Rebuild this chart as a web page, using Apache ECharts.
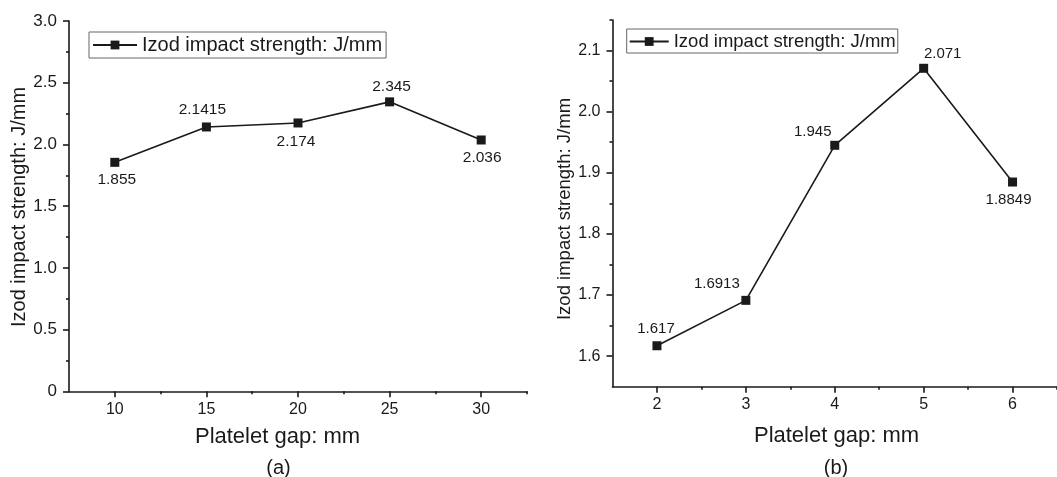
<!DOCTYPE html>
<html>
<head>
<meta charset="utf-8">
<script src="https://cdn.jsdelivr.net/npm/echarts@6/dist/echarts.min.js"></script>
<style>
html,body{margin:0;padding:0;background:#fff;}
#chart{width:1057px;height:477px;}
</style>
</head>
<body>
<div id="chart"></div>
<script>
// ---- data ----
const seriesName = 'Izod impact strength: J/mm';
const gapA = [10, 15, 20, 25, 30];
const strengthA = [1.855, 2.1415, 2.174, 2.345, 2.036];
const gapB = [2, 3, 4, 5, 6];
const strengthB = [1.617, 1.6913, 1.945, 2.071, 1.8849];

// ---- tick labels ----
const xMajorA = [10, 15, 20, 25, 30];
const xMinorA = [12.5, 17.5, 22.5, 27.5, 32.5];
const xMajorB = [2, 3, 4, 5, 6];
const xMinorB = [2.5, 3.5, 4.5, 5.5, 6.5];
const yMajorB = [1.6, 1.7, 1.8, 1.9, 2.0, 2.1];
const yMinorB = [1.65, 1.75, 1.85, 1.95, 2.05, 2.15];

const xTitle = 'Platelet gap: mm';
const yTitle = 'Izod impact strength: J/mm';
const panelA = '(a)';
const panelB = '(b)';

// label placement (style only)
const labelPlaceA = [
  {position: 'bottom', offset: [2, 0]},
  {position: 'top', offset: [-4, 0]},
  {position: 'bottom', offset: [-2, 1]},
  {position: 'top', offset: [2, 2]},
  {position: 'bottom', offset: [1, 0]}
];
const labelPlaceB = [
  {position: 'top', offset: [-1, 0]},
  {position: 'top', offset: [-29, 1]},
  {position: 'top', offset: [-22, 4]},
  {position: 'top', offset: [19, 3]},
  {position: 'bottom', offset: [-4, 1]}
];

const FONT = '"Liberation Sans", Arial, sans-serif';
const INK = '#1a1a1a';

const chart = echarts.init(document.getElementById('chart'), null, {renderer: 'canvas'});

function axisBase(extra) {
  return Object.assign({
    axisLine: {show: true, onZero: false, lineStyle: {color: INK, width: 1.6}},
    splitLine: {show: false},
    axisLabel: {color: INK, fontFamily: FONT}
  }, extra);
}

const option = {
  backgroundColor: '#fff',
  animation: false,
  textStyle: {fontFamily: FONT},
  grid: [
    {left: 69, top: 21, width: 458, height: 370.3, containLabel: false},
    {left: 612.5, top: 20, width: 450, height: 366.7, containLabel: false}
  ],
  legend: [
    {
      data: [seriesName], left: 89, top: 32,
      padding: [3, 4, 3, 3], borderColor: '#666', borderWidth: 1,
      itemWidth: 44, itemHeight: 11, selectedMode: false,
      textStyle: {fontSize: 20, color: INK, fontFamily: FONT}
    },
    {
      data: [seriesName], left: 626.7, top: 29,
      padding: [3, 2, 2, 2], borderColor: '#666', borderWidth: 1,
      itemWidth: 39, itemHeight: 11, selectedMode: false,
      textStyle: {fontSize: 18.5, color: INK, fontFamily: FONT}
    }
  ],
  xAxis: [
    axisBase({
      type: 'value', gridIndex: 0, position: 'bottom', min: 7.5, max: 32.5,
      axisTick: {show: true, length: 6, customValues: xMajorA, lineStyle: {color: INK, width: 1.6}},
      axisLabel: {color: INK, fontFamily: FONT, fontSize: 16, margin: 10, customValues: xMajorA}
    }),
    {
      type: 'value', gridIndex: 0, position: 'bottom', min: 7.5, max: 32.5,
      axisLine: {show: false, onZero: false}, splitLine: {show: false},
      axisLabel: {show: false},
      axisTick: {show: true, length: 3, customValues: xMinorA, lineStyle: {color: INK, width: 1.6}}
    },
    axisBase({
      type: 'value', gridIndex: 1, position: 'bottom', min: 1.5, max: 6.5,
      axisTick: {show: true, length: 6, customValues: xMajorB, lineStyle: {color: INK, width: 1.6}},
      axisLabel: {color: INK, fontFamily: FONT, fontSize: 16, margin: 10, customValues: xMajorB}
    }),
    {
      type: 'value', gridIndex: 1, position: 'bottom', min: 1.5, max: 6.5,
      axisLine: {show: false, onZero: false}, splitLine: {show: false},
      axisLabel: {show: false},
      axisTick: {show: true, length: 3, customValues: xMinorB, lineStyle: {color: INK, width: 1.6}}
    }
  ],
  yAxis: [
    axisBase({
      type: 'value', gridIndex: 0, position: 'left', min: 0, max: 3, interval: 0.5,
      axisTick: {show: true, length: 6, lineStyle: {color: INK, width: 1.6}},
      minorTick: {show: true, splitNumber: 2, length: 3, lineStyle: {color: INK, width: 1.6}},
      minorSplitLine: {show: false},
      axisLabel: {color: INK, fontFamily: FONT, fontSize: 17, margin: 12,
        formatter: v => (v === 0 ? '0' : v.toFixed(1))}
    }),
    axisBase({
      type: 'value', gridIndex: 1, position: 'left', min: 1.55, max: 2.15,
      axisTick: {show: true, length: 6, customValues: yMajorB, lineStyle: {color: INK, width: 1.6}},
      axisLabel: {color: INK, fontFamily: FONT, fontSize: 16, margin: 12, customValues: yMajorB,
        formatter: v => v.toFixed(1)}
    }),
    {
      type: 'value', gridIndex: 1, position: 'left', min: 1.55, max: 2.15,
      axisLine: {show: false, onZero: false}, splitLine: {show: false},
      axisLabel: {show: false},
      axisTick: {show: true, length: 3, customValues: yMinorB, lineStyle: {color: INK, width: 1.6}}
    }
  ],
  series: [
    {
      name: seriesName, type: 'line', xAxisIndex: 0, yAxisIndex: 0,
      symbol: 'rect', symbolSize: 9,
      lineStyle: {color: INK, width: 1.6}, itemStyle: {color: INK},
      label: {show: true, color: INK, fontSize: 15.5, fontFamily: FONT, distance: 5},
      data: gapA.map((x, i) => ({
        value: [x, strengthA[i]],
        label: Object.assign({formatter: String(strengthA[i])}, labelPlaceA[i])
      }))
    },
    {
      name: seriesName, type: 'line', xAxisIndex: 2, yAxisIndex: 1,
      symbol: 'rect', symbolSize: 9,
      lineStyle: {color: INK, width: 1.6}, itemStyle: {color: INK},
      label: {show: true, color: INK, fontSize: 15, fontFamily: FONT, distance: 5},
      data: gapB.map((x, i) => ({
        value: [x, strengthB[i]],
        label: Object.assign({formatter: String(strengthB[i])}, labelPlaceB[i])
      }))
    }
  ],
  graphic: [
    {type: 'text', x: 19, y: 207, rotation: Math.PI / 2,
      style: {text: yTitle, font: '20px ' + FONT, fill: INK, align: 'center', verticalAlign: 'middle'}},
    {type: 'text', x: 565, y: 209, rotation: Math.PI / 2,
      style: {text: yTitle, font: '18.5px ' + FONT, fill: INK, align: 'center', verticalAlign: 'middle'}},
    {type: 'text', x: 277.5, y: 437,
      style: {text: xTitle, font: '22px ' + FONT, fill: INK, align: 'center', verticalAlign: 'middle'}},
    {type: 'text', x: 836.5, y: 436,
      style: {text: xTitle, font: '22px ' + FONT, fill: INK, align: 'center', verticalAlign: 'middle'}},
    {type: 'text', x: 278.5, y: 468,
      style: {text: panelA, font: '20px ' + FONT, fill: INK, align: 'center', verticalAlign: 'middle'}},
    {type: 'text', x: 836, y: 468,
      style: {text: panelB, font: '20px ' + FONT, fill: INK, align: 'center', verticalAlign: 'middle'}}
  ]
};
chart.setOption(option);
</script>
</body>
</html>
